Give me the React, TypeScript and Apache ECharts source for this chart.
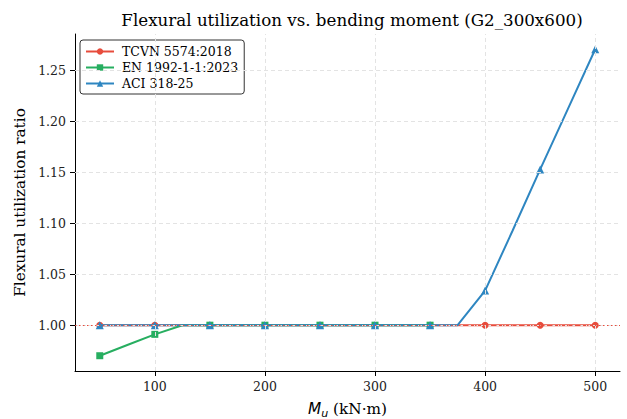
import React, { useEffect, useRef } from "react";
import * as echarts from "echarts";

const moments = [50, 75, 100, 125, 150, 175, 200, 225, 250, 275, 300, 325, 350, 375, 400, 425, 450, 475, 500];
const tcvn = [1.0, 1.0, 1.0, 1.0, 1.0, 1.0, 1.0, 1.0, 1.0, 1.0, 1.0, 1.0, 1.0, 1.0, 1.0, 1.0, 1.0, 1.0, 1.0];
const en = [0.970, 0.9805, 0.991, 1.0, 1.0, 1.0, 1.0, 1.0, 1.0, 1.0, 1.0, 1.0, 1.0, null, null, null, null, null, null];
const aci = [1.0, 1.0, 1.0, 1.0, 1.0, 1.0, 1.0, 1.0, 1.0, 1.0, 1.0, 1.0, 1.0, 1.0, 1.034, 1.093, 1.153, 1.212, 1.271];
const xTicks = [100, 200, 300, 400, 500];
const yTicks = [1.0, 1.05, 1.1, 1.15, 1.2, 1.25];
const referenceLine = 1.0;
const seriesNames = ["TCVN 5574:2018", "EN 1992-1-1:2023", "ACI 318-25"];

const FONT = "DejaVu Serif";
const RED = "#e74c3c";
const GREEN = "#27ae60";
const BLUE = "#2e86c1";

function build(values: (number | null)[]) {
  const out: any[] = [];
  moments.forEach((m, i) => {
    const v = values[i];
    if (v === null || v === undefined) return;
    const item: any = { value: [m, v] };
    if (m % 50 !== 0) item.symbol = "none";
    out.push(item);
  });
  return out;
}

export default function App() {
  const ref = useRef<HTMLDivElement>(null);
  useEffect(() => {
    const chart = echarts.init(ref.current!, null, { renderer: "svg" });
    const gridLines: any[] = [
      ...xTicks.map((x) => ({ xAxis: x })),
      ...yTicks.map((y) => ({ yAxis: y })),
    ];
    chart.setOption({
      animation: false,
      backgroundColor: "#ffffff",
      textStyle: { fontFamily: FONT },
      title: {
        text: "Flexural utilization vs. bending moment (G2_300x600)",
        left: 347,
        textAlign: "center",
        top: 6,
        textStyle: { fontFamily: FONT, fontSize: 16.7, fontWeight: "normal", color: "#000" },
      },
      legend: {
        orient: "vertical",
        left: 80,
        top: 40,
        padding: [5, 6, 4, 5],
        itemGap: 3,
        itemWidth: 28,
        itemHeight: 8,
        borderColor: "#333",
        borderWidth: 1,
        borderRadius: 3,
        backgroundColor: "#fff",
        textStyle: { fontFamily: FONT, fontSize: 12.5, color: "#000", padding: [0, 0, 0, 3] },
        data: seriesNames,
      },
      grid: { left: 75, right: 7, top: 34, bottom: 48, containLabel: false, outerBoundsMode: "none" },
      xAxis: {
        type: "value",
        min: 27.5,
        max: 522.5,
        name: "{i|M}{s|u} (kN·m)",
        nameLocation: "middle",
        nameGap: 28,
        nameTextStyle: {
          fontFamily: FONT,
          fontSize: 15.3,
          color: "#000",
          rich: {
            i: { fontFamily: "DejaVu Sans", fontStyle: "italic", fontSize: 15.3, color: "#000" },
            s: { fontFamily: "DejaVu Sans", fontStyle: "italic", fontSize: 11, color: "#000", padding: [9, 0, 0, 0] },
          },
        },
        axisLine: { show: true, onZero: false, lineStyle: { color: "#000", width: 1 } },
        axisTick: { show: true, customValues: xTicks, length: 5, lineStyle: { color: "#000" } },
        axisLabel: { customValues: xTicks, fontFamily: FONT, fontSize: 12.5, color: "#222", margin: 9 },
        splitLine: { show: false },
      },
      yAxis: {
        type: "value",
        min: 0.955,
        max: 1.286,
        name: "Flexural utilization ratio",
        nameLocation: "middle",
        nameGap: 41,
        nameTextStyle: { fontFamily: FONT, fontSize: 15.3, color: "#000" },
        axisLine: { show: true, onZero: false, lineStyle: { color: "#000", width: 1 } },
        axisTick: { show: true, customValues: yTicks, length: 5, lineStyle: { color: "#000" } },
        axisLabel: {
          customValues: yTicks,
          fontFamily: FONT,
          fontSize: 12.5,
          color: "#222",
          margin: 9,
          formatter: (v: number) => v.toFixed(2),
        },
        splitLine: { show: false },
      },
      series: [
        {
          name: "__grid",
          type: "line",
          data: [],
          silent: true,
          z: 0,
          markLine: {
            silent: true,
            symbol: "none",
            label: { show: false },
            animation: false,
            lineStyle: { color: "#e3e3e3", type: [4, 3], width: 1 },
            data: gridLines,
          },
        },
        {
          name: seriesNames[0],
          type: "line",
          data: build(tcvn),
          color: RED,
          symbol: "circle",
          symbolSize: 7,
          lineStyle: { width: 2, color: RED },
          itemStyle: { color: RED },
          z: 2,
        },
        {
          name: seriesNames[1],
          type: "line",
          data: build(en),
          color: GREEN,
          symbol: "rect",
          symbolSize: 7,
          lineStyle: { width: 2, color: GREEN },
          itemStyle: { color: GREEN },
          z: 3,
        },
        {
          name: seriesNames[2],
          type: "line",
          data: build(aci),
          color: BLUE,
          symbol: "triangle",
          symbolSize: 8,
          lineStyle: { width: 2, color: BLUE },
          itemStyle: { color: BLUE },
          z: 4,
        },
        {
          name: "__ref",
          type: "line",
          data: [],
          silent: true,
          z: 10,
          markLine: {
            silent: true,
            symbol: "none",
            label: { show: false },
            animation: false,
            lineStyle: { color: RED, type: [1.5, 2.5], width: 1.2 },
            data: [{ yAxis: referenceLine }],
          },
        },
      ],
    });
    return () => chart.dispose();
  }, []);
  return <div ref={ref} style={{ width: 627, height: 419, position: "absolute", left: 0, top: 0 }} />;
}
